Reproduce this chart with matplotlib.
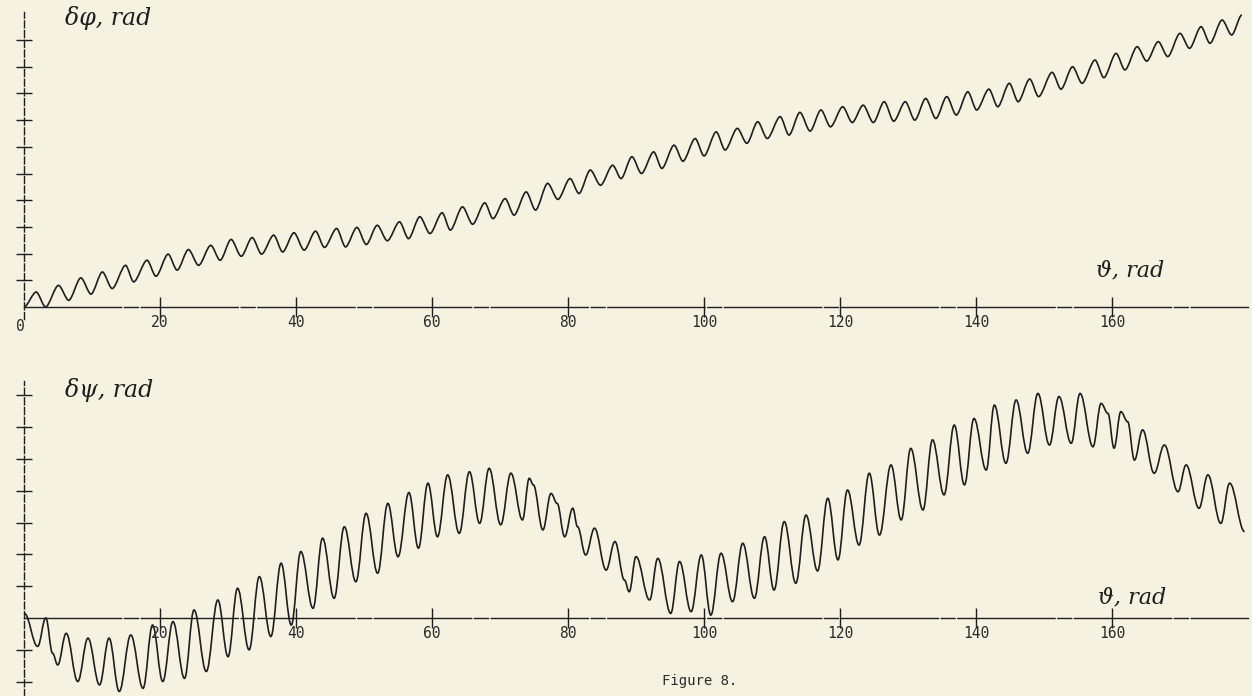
import matplotlib
matplotlib.use("Agg")
import matplotlib.pyplot as plt
import numpy as np
from matplotlib.path import Path
from matplotlib.patches import PathPatch

# values at every peak / trough of the trace
# theta in rad, value in y-tick divisions of each panel

# upper panel: delta phi
phi_theta = [0.0, 1.79, 3.16, 5.07, 6.57, 8.36, 9.85, 11.52, 12.96, 14.93,
             16.12, 18.09, 19.40, 21.19, 22.51, 24.18, 25.67, 27.46, 28.84, 30.45,
             31.94, 33.55, 34.93, 36.72, 38.03, 39.70, 41.19, 42.87, 44.18, 45.97,
             47.28, 48.96, 50.33, 51.94, 53.43, 55.22, 56.54, 58.21, 59.70, 61.49,
             62.69, 64.48, 65.97, 67.76, 68.96, 70.75, 72.06, 73.85, 75.22, 77.01,
             78.51, 80.30, 81.61, 83.28, 84.78, 86.57, 87.8, 89.4, 90.8, 92.6,
             93.8, 95.6, 96.9, 98.7, 100.0, 101.8, 103.1, 104.9, 106.3, 107.9,
             109.3, 111.2, 112.5, 114.1, 115.6, 117.2, 118.6, 120.4, 121.8, 123.4,
             124.9, 126.5, 127.9, 129.6, 131.0, 132.6, 134.1, 135.7, 137.1, 138.8,
             140.1, 141.9, 143.2, 144.9, 146.2, 147.9, 149.2, 151.2, 152.5, 154.2,
             155.6, 157.5, 158.8, 160.6, 161.9, 163.7, 165.1, 166.8, 168.2, 170.0,
             171.4, 173.1, 174.4, 176.2, 177.6, 179.1]
phi_value = [0.0, 0.56, 0.0, 0.81, 0.25, 1.09, 0.48, 1.31, 0.69, 1.56,
             0.94, 1.75, 1.15, 1.98, 1.38, 2.15, 1.56, 2.31, 1.75, 2.53,
             1.90, 2.60, 1.98, 2.69, 2.06, 2.78, 2.13, 2.84, 2.23, 2.94,
             2.25, 2.98, 2.34, 3.06, 2.48, 3.19, 2.56, 3.38, 2.75, 3.53,
             2.88, 3.75, 3.10, 3.90, 3.31, 4.06, 3.44, 4.31, 3.63, 4.63,
             4.03, 4.81, 4.25, 5.13, 4.56, 5.31, 4.81, 5.63, 5.0, 5.81,
             5.19, 6.06, 5.46, 6.31, 5.66, 6.56, 5.88, 6.69, 6.13, 6.94,
             6.31, 7.13, 6.44, 7.29, 6.59, 7.38, 6.75, 7.5, 6.91, 7.56,
             6.91, 7.69, 6.96, 7.69, 7.0, 7.81, 7.06, 7.88, 7.19, 8.06,
             7.38, 8.16, 7.5, 8.38, 7.69, 8.54, 7.88, 8.79, 8.16, 9.0,
             8.38, 9.25, 8.59, 9.5, 8.88, 9.75, 9.21, 9.94, 9.38, 10.25,
             9.69, 10.5, 9.88, 10.75, 10.19, 10.94]

# lower panel: delta psi
psi_theta = [0.05, 2.0, 3.2, 4.2, 4.95, 6.2, 7.9, 9.4, 11.1, 12.5,
             14.0, 15.7, 17.5, 18.9, 20.4, 21.9, 23.6, 25.0, 26.8, 28.5,
             30.0, 31.4, 33.1, 34.6, 36.3, 37.8, 39.3, 40.7, 42.5, 43.9,
             45.6, 47.1, 48.8, 50.3, 52.0, 53.5, 55.0, 56.6, 58.0, 59.4,
             60.8, 62.3, 64.0, 65.5, 67.0, 68.4, 70.1, 71.6, 73.3, 74.3,
             74.9, 76.3, 77.5, 78.4, 79.5, 80.7, 81.4, 82.6, 83.9, 85.6,
             86.9, 88.3, 89.0, 90.0, 92.0, 93.2, 95.1, 96.4, 98.1, 99.6,
             101.0, 102.5, 104.2, 105.7, 107.4, 108.9, 110.3, 111.8, 113.5, 115.0,
             116.7, 118.2, 119.7, 121.1, 122.8, 124.3, 125.8, 127.5, 129.0, 130.4,
             132.2, 133.6, 135.3, 136.8, 138.3, 139.7, 141.5, 142.7, 144.4, 145.9,
             147.6, 149.1, 150.8, 152.2, 154.0, 155.3, 157.2, 158.4, 159.4, 160.3,
             161.3, 162.3, 163.3, 164.5, 166.2, 167.7, 169.7, 170.9, 172.8, 174.1,
             176.0, 177.3, 179.5]
psi_value = [0.16, -1.0, 0.0, -1.24, -1.65, -0.54, -2.23, -0.71, -2.35, -0.71,
             -2.58, -0.6, -2.47, -0.25, -2.23, -0.13, -2.12, 0.28, -1.88, 0.63,
             -1.36, 1.04, -1.12, 1.45, -0.65, 1.92, -0.25, 2.33, 0.34, 2.8,
             0.69, 3.2, 1.27, 3.67, 1.57, 4.02, 2.15, 4.4, 2.45, 4.73,
             2.85, 5.02, 2.97, 5.13, 3.32, 5.25, 3.27, 5.08, 3.44, 4.9,
             4.67, 3.09, 4.37, 4.02, 2.85, 3.85, 3.2, 2.21, 3.15, 1.68,
             2.68, 1.33, 0.92, 2.15, 0.63, 2.09, 0.16, 1.98, 0.22, 2.21,
             0.1, 2.27, 0.57, 2.62, 0.69, 2.85, 0.98, 3.38, 1.22, 3.61,
             1.65, 4.2, 2.04, 4.49, 2.56, 5.08, 2.91, 5.37, 3.44, 5.95,
             3.79, 6.25, 4.32, 6.77, 4.67, 7.0, 5.19, 7.47, 5.43, 7.65,
             5.78, 7.88, 6.07, 7.77, 6.13, 7.88, 6.01, 7.53, 7.18, 5.96,
             7.24, 6.89, 5.54, 6.6, 5.08, 6.07, 4.43, 5.37, 3.85, 5.02,
             3.32, 4.73, 3.03]

x_ticks = [20, 40, 60, 80, 100, 120, 140, 160]
x_tick_labels = ["20", "40", "60", "80", "100", "120", "140", "160"]

PAPER = "#f6f2e2"
INK = "#1e1e1e"
PSI_STEP = 1.116  # y tick spacing of the lower panel in the units above

plt.rcParams["font.family"] = ["DejaVu Sans Mono"]


def trace_path(xs, ys, k=0.42):
    # pen-plotter look: smooth bezier segments between the read extremes
    verts = [(xs[0], ys[0])]
    codes = [Path.MOVETO]
    for i in range(1, len(xs)):
        dx = xs[i] - xs[i - 1]
        verts += [(xs[i - 1] + k * dx, ys[i - 1]), (xs[i] - k * dx, ys[i]), (xs[i], ys[i])]
        codes += [Path.CURVE4] * 3
    return Path(verts, codes)


def style_axes(ax, ylim, yticks, ytop):
    ax.set_facecolor("none")
    ax.set_xlim(0, 180)
    ax.set_ylim(*ylim)
    ax.spines["top"].set_visible(False)
    ax.spines["right"].set_visible(False)
    ax.spines["bottom"].set_position(("data", 0))
    ax.spines["bottom"].set_linestyle((0, (70, 2, 10, 2)))
    ax.spines["left"].set_linestyle((0, (5, 2)))
    ax.spines["left"].set_bounds(ylim[0], ytop)
    for s in ("bottom", "left"):
        ax.spines[s].set_color(INK)
        ax.spines[s].set_linewidth(1.0)
    ax.set_xticks(x_ticks)
    ax.set_xticklabels(x_tick_labels)
    ax.set_yticks(yticks)
    ax.set_yticklabels([])
    ax.tick_params(axis="x", direction="inout", length=14, width=1.0, color=INK,
                   pad=-1, labelsize=10.5, labelcolor="#2a2a2a")
    ax.tick_params(axis="y", direction="inout", length=11, width=1.0, color=INK)


fig = plt.figure(figsize=(12.52, 6.96), dpi=100, facecolor=PAPER)

ax_top = fig.add_axes([0.0192, 0.5417, 0.9776, 0.4583])
style_axes(ax_top, (-0.45, 11.5), np.arange(1, 11), 11.05)
ax_top.add_patch(PathPatch(trace_path(phi_theta, phi_value, k=0.3), facecolor="none",
                           edgecolor=INK, linewidth=1.2))
ax_top.text(-0.5, -0.45, "0", ha="center", va="top", fontsize=10.5, color="#2a2a2a")

ax_bot = fig.add_axes([0.0192, 0.0, 0.9776, 0.4642])
psi_ticks = [k * PSI_STEP for k in range(-2, 8) if k != 0]
style_axes(ax_bot, (-2.74, 8.6), psi_ticks, 8.3)
ax_bot.add_patch(PathPatch(trace_path(psi_theta, psi_value, k=0.38), facecolor="none",
                           edgecolor=INK, linewidth=1.2))

hand = dict(family=["DejaVu Serif"], style="italic", color=INK)
fig.text(0.052, 0.974, "δφ, rad", fontsize=17, va="center", **hand)
fig.text(0.052, 0.440, "δψ, rad", fontsize=17, va="center", **hand)
fig.text(0.875, 0.612, "ϑ, rad", fontsize=16, va="center", **hand)
fig.text(0.877, 0.141, "ϑ, rad", fontsize=16, va="center", **hand)

fig.text(0.559, 0.0216, "Figure 8.", ha="center", va="center", fontsize=10, color="#2a2a2a")

fig.savefig("out.png", dpi=100, facecolor=PAPER)
